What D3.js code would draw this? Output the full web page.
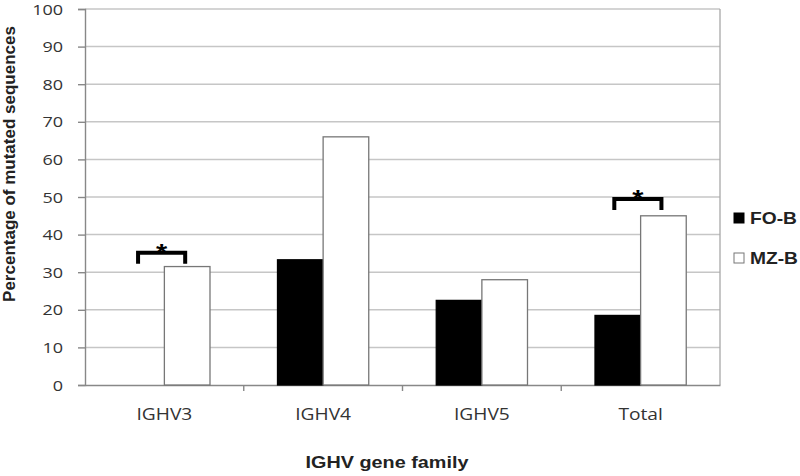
<!DOCTYPE html>
<html>
<head>
<meta charset="utf-8">
<script src="https://cdn.jsdelivr.net/npm/d3@7"></script>
<style>
  body { margin: 0; background: #fff; }
  svg { display: block; }
</style>
</head>
<body>
<script>
"use strict";

// values
const families = ["IGHV3", "IGHV4", "IGHV5", "Total"];
const foB = [0, 33.3, 22.5, 18.5];
const mzB = [31.5, 66, 28, 45];
const seriesNames = ["FO-B", "MZ-B"];
const yTicks = [0, 10, 20, 30, 40, 50, 60, 70, 80, 90, 100];
// significance brackets: family, bracket top value
const sigFamilies = ["IGHV3", "Total"];
const sigLevels = [35.2, 49.5];

const W = 800, H = 476;
const m = { left: 85, right: 80, top: 9, bottom: 91 };
const stretch = 1.2; // the original figure is stretched sideways

let svg = d3.select("body").append("svg").attr("width", W).attr("height", H);

let x = d3.scaleBand().domain(families).range([m.left, W - m.right]);
let inner = d3.scaleBand().domain(seriesNames).range([0, x.bandwidth()]).paddingInner(0).paddingOuter(0.74);
let y = d3.scaleLinear().domain([0, 100]).range([H - m.bottom, m.top]);

let wideText = (g, tx, ty) => g.append("text")
  .attr("transform", `translate(${tx},${ty}) scale(${stretch},1)`);

// grid
svg.append("g")
  .selectAll("line")
  .data(yTicks.filter(d => d > 0))
  .enter()
  .append("line")
  .attr("x1", m.left).attr("x2", W - m.right)
  .attr("y1", d => y(d)).attr("y2", d => y(d))
  .attr("stroke", "#c6c6c6").attr("stroke-width", 1.5);

// right border of plot
svg.append("line")
  .attr("x1", W - m.right).attr("x2", W - m.right)
  .attr("y1", y(100)).attr("y2", y(0))
  .attr("stroke", "#a8a8a8").attr("stroke-width", 1.3);

// y axis
let yAxis = svg.append("g")
  .attr("transform", `translate(${m.left},0)`)
  .call(d3.axisLeft(y).tickValues(yTicks).tickSize(7).tickFormat(""));
yAxis.selectAll("line, path").attr("stroke", "#888").attr("stroke-width", 1.4);
yTicks.forEach(t => {
  wideText(svg, m.left - 22, y(t) + 5.5)
    .attr("text-anchor", "end")
    .attr("font-family", "Open Sans, sans-serif").attr("font-size", 15)
    .attr("fill", "#333")
    .text(t);
});

// x axis
let xAxis = svg.append("g")
  .attr("transform", `translate(0,${y(0)})`)
  .call(d3.axisBottom(x).tickSize(0).tickFormat(""));
xAxis.select(".domain").attr("stroke", "#888").attr("stroke-width", 1.4);
svg.append("g")
  .selectAll("line")
  .data(families.slice(1))
  .enter()
  .append("line")
  .attr("x1", d => x(d)).attr("x2", d => x(d))
  .attr("y1", y(0)).attr("y2", y(0) + 6)
  .attr("stroke", "#888").attr("stroke-width", 1.4);
families.forEach(f => {
  wideText(svg, x(f) + x.bandwidth() / 2, 420)
    .attr("text-anchor", "middle")
    .attr("font-family", "Open Sans, sans-serif").attr("font-size", 16)
    .attr("fill", "#333")
    .text(f);
});

// bars
let rows = families.map((f, i) => ({ f: f, vals: [foB[i], mzB[i]] }));
let groups = svg.append("g")
  .selectAll("g")
  .data(rows)
  .enter()
  .append("g")
  .attr("transform", d => `translate(${x(d.f)},0)`);

groups.selectAll("rect")
  .data(d => d.vals.map((v, j) => ({ s: seriesNames[j], v: v })))
  .enter()
  .filter(d => d.v > 0)
  .append("rect")
  .attr("x", d => inner(d.s))
  .attr("width", inner.bandwidth())
  .attr("y", d => y(d.v))
  .attr("height", d => y(0) - y(d.v))
  .attr("fill", d => d.s === "FO-B" ? "#000" : "#fff")
  .attr("stroke", d => d.s === "FO-B" ? "#000" : "#777")
  .attr("stroke-width", 1.3);

// significance brackets
sigFamilies.forEach((f, i) => {
  let x1 = x(f) + inner("FO-B") + inner.bandwidth() / 2 - 3.5;
  let x2 = x(f) + inner("MZ-B") + inner.bandwidth() / 2 - 2;
  let top = y(sigLevels[i]);
  svg.append("path")
    .attr("d", `M${x1},${top + 11}V${top}H${x2}V${top + 11}`)
    .attr("fill", "none").attr("stroke", "#000").attr("stroke-width", 4);
  wideText(svg, (x1 + x2) / 2, top + 8)
    .attr("text-anchor", "middle")
    .attr("font-family", "Liberation Sans, Arial, sans-serif")
    .attr("font-weight", "bold").attr("font-size", 24)
    .text("*");
});

// legend
let legend = svg.append("g")
  .selectAll("g")
  .data(seriesNames)
  .enter()
  .append("g")
  .attr("transform", (d, i) => `translate(734,${218 + i * 40})`);
legend.append("rect")
  .attr("x", 0).attr("y", -5).attr("width", 10).attr("height", 10)
  .attr("fill", d => d === "FO-B" ? "#000" : "#fff")
  .attr("stroke", d => d === "FO-B" ? "#000" : "#777");
legend.append("text")
  .attr("transform", `translate(16,6) scale(${stretch},1)`)
  .attr("font-family", "Liberation Sans, Arial, sans-serif")
  .attr("font-weight", "bold").attr("font-size", 16)
  .attr("fill", "#222")
  .text(d => d);

// axis titles
svg.append("text")
  .attr("transform", `translate(15,164) rotate(-90)`)
  .attr("text-anchor", "middle")
  .attr("font-family", "Liberation Sans, Arial, sans-serif")
  .attr("font-weight", "bold").attr("font-size", 17)
  .attr("fill", "#222")
  .text("Percentage of mutated sequences");

wideText(svg, 387, 468)
  .attr("text-anchor", "middle")
  .attr("font-family", "Liberation Sans, Arial, sans-serif")
  .attr("font-weight", "bold").attr("font-size", 16.5)
  .attr("fill", "#222")
  .text("IGHV gene family");
</script>
</body>
</html>
